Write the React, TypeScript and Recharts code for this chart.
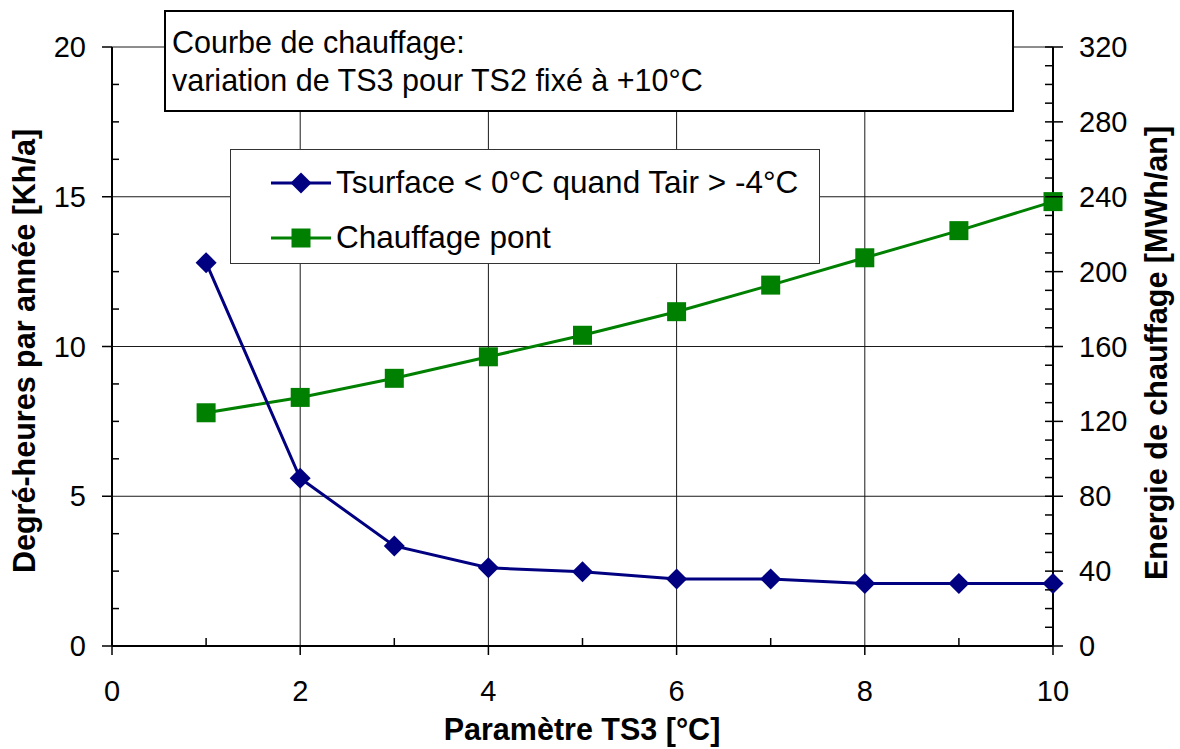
import React from "react";
import { LineChart, Line, XAxis, YAxis, CartesianGrid, Legend, Label } from "recharts";

// TS3 setting (°C) and the two results per setting
const ts3 = [1, 2, 3, 4, 5, 6, 7, 8, 9, 10];
const degreeHours = [12.8, 5.6, 3.34, 2.61, 2.48, 2.24, 2.24, 2.09, 2.09, 2.09];
const heatingEnergy = [124.6, 132.8, 143.0, 154.5, 166.0, 178.6, 192.8, 207.4, 221.9, 237.4];

const SERIES_DH = "Tsurface < 0°C quand Tair > -4°C";
const SERIES_ENERGY = "Chauffage pont";

const xTicks = [0, 1, 2, 3, 4, 5, 6, 7, 8, 9, 10];
const xMajor = [0, 2, 4, 6, 8, 10];
const leftTicks = [0, 1.25, 2.5, 3.75, 5, 6.25, 7.5, 8.75, 10, 11.25, 12.5, 13.75, 15, 16.25, 17.5, 18.75, 20];
const leftMajor = [0, 5, 10, 15, 20];
const rightTicks = [
  0, 10, 20, 30, 40, 50, 60, 70, 80, 90, 100, 110, 120, 130, 140, 150, 160,
  170, 180, 190, 200, 210, 220, 230, 240, 250, 260, 270, 280, 290, 300, 310, 320,
];
const rightMajor = [0, 40, 80, 120, 160, 200, 240, 280, 320];

const data = ts3.map((t, i) => ({ ts3: t, dh: degreeHours[i], energy: heatingEnergy[i] }));

const FONT = "'Liberation Sans', Arial, sans-serif";
const NAVY = "#000080";
const GREEN = "#008000";

function XTick({ x, y, payload }: any) {
  const major = xMajor.includes(payload.value);
  return (
    <g>
      {major ? (
        <line x1={x} y1={y} x2={x} y2={y + 9} stroke="#000" strokeWidth={1.5} />
      ) : (
        <line x1={x} y1={y - 8} x2={x} y2={y} stroke="#000" strokeWidth={1.5} />
      )}
      {major && (
        <text x={x} y={y + 55} textAnchor="middle" fontFamily={FONT} fontSize={29} fill="#000">
          {payload.value}
        </text>
      )}
    </g>
  );
}

function LeftTick({ x, y, payload }: any) {
  const major = leftMajor.includes(payload.value);
  return (
    <g>
      {major ? (
        <line x1={x - 10} y1={y} x2={x} y2={y} stroke="#000" strokeWidth={1.5} />
      ) : (
        <line x1={x} y1={y} x2={x + 7} y2={y} stroke="#000" strokeWidth={1.5} />
      )}
      {major && (
        <text x={x - 26} y={y + 10} textAnchor="end" fontFamily={FONT} fontSize={29} fill="#000">
          {payload.value}
        </text>
      )}
    </g>
  );
}

function RightTick({ x, y, payload }: any) {
  const major = rightMajor.includes(payload.value);
  return (
    <g>
      {major ? (
        <line x1={x - 8} y1={y} x2={x + 10} y2={y} stroke="#000" strokeWidth={1.5} />
      ) : (
        <line x1={x - 8} y1={y} x2={x} y2={y} stroke="#000" strokeWidth={1.5} />
      )}
      {major && (
        <text x={x + 26} y={y + 10} textAnchor="start" fontFamily={FONT} fontSize={29} fill="#000">
          {payload.value}
        </text>
      )}
    </g>
  );
}

function DiamondDot({ cx, cy }: any) {
  if (cx == null || cy == null) return null;
  const r = 10.5;
  return <path d={`M${cx},${cy - r}L${cx + r},${cy}L${cx},${cy + r}L${cx - r},${cy}Z`} fill={NAVY} />;
}

function SquareDot({ cx, cy }: any) {
  if (cx == null || cy == null) return null;
  return <rect x={cx - 9.5} y={cy - 9.5} width={19} height={19} fill={GREEN} />;
}

function LegendBox({ payload }: any) {
  const items = (payload || []).slice().reverse();
  return (
    <div
      style={{
        position: "relative",
        width: 590,
        height: 115,
        boxSizing: "border-box",
        border: "1.5px solid #333",
        background: "#fff",
        fontFamily: FONT,
      }}
    >
      {items.map((item: any, i: number) => {
        const cy = i === 0 ? 33 : 88;
        const isDiamond = item.value === SERIES_DH;
        return (
          <div key={item.value}>
            <svg width={64} height={30} style={{ position: "absolute", left: 38, top: cy - 15 }}>
              <line x1={2} y1={15} x2={62} y2={15} stroke={item.color} strokeWidth={3} />
              {isDiamond ? (
                <path d="M32,4.5L42.5,15L32,25.5L21.5,15Z" fill={item.color} />
              ) : (
                <rect x={22.5} y={5.5} width={19} height={19} fill={item.color} />
              )}
            </svg>
            <div
              style={{
                position: "absolute",
                left: 105,
                top: cy - 19,
                fontSize: 31.5,
                lineHeight: "36px",
                whiteSpace: "nowrap",
                color: "#000",
              }}
            >
              {item.value}
            </div>
          </div>
        );
      })}
    </div>
  );
}

export default function App() {
  return (
    <div style={{ position: "absolute", left: 0, top: 0, width: 1180, height: 749, background: "#fff" }}>
      <LineChart width={1180} height={749} data={data} margin={{ top: 47, right: 0, left: 0, bottom: 0 }}>
        <CartesianGrid
          yAxisId="left"
          horizontalValues={[5, 10, 15, 20]}
          verticalValues={[2, 4, 6, 8]}
          stroke="#1a1a1a"
          strokeWidth={1}
          fill="none"
        />
        <XAxis
          dataKey="ts3"
          type="number"
          domain={[0, 10]}
          ticks={xTicks}
          interval={0}
          height={103}
          tickSize={0}
          tickMargin={0}
          tick={(p: any) => <XTick {...p} />}
          axisLine={{ stroke: "#000", strokeWidth: 2 }}
        >
          <Label
            content={() => (
              <text x={582} y={740} textAnchor="middle" fontFamily={FONT} fontSize={30.5} fontWeight="bold" fill="#000">
                Paramètre TS3 [°C]
              </text>
            )}
          />
        </XAxis>
        <YAxis
          yAxisId="left"
          orientation="left"
          type="number"
          domain={[0, 20]}
          ticks={leftTicks}
          interval={0}
          width={112}
          tickSize={0}
          tickMargin={0}
          tick={(p: any) => <LeftTick {...p} />}
          axisLine={{ stroke: "#000", strokeWidth: 2 }}
        >
          <Label
            content={() => (
              <text
                x={35}
                y={351}
                transform="rotate(-90, 35, 351)"
                textAnchor="middle"
                fontFamily={FONT}
                fontSize={30.5}
                fontWeight="bold"
                fill="#000"
              >
                Degré-heures par année [Kh/a]
              </text>
            )}
          />
        </YAxis>
        <YAxis
          yAxisId="right"
          orientation="right"
          type="number"
          domain={[0, 320]}
          ticks={rightTicks}
          interval={0}
          width={127}
          tickSize={0}
          tickMargin={0}
          tick={(p: any) => <RightTick {...p} />}
          axisLine={{ stroke: "#000", strokeWidth: 2 }}
        >
          <Label
            content={() => (
              <text
                x={1167}
                y={353}
                transform="rotate(-90, 1167, 353)"
                textAnchor="middle"
                fontFamily={FONT}
                fontSize={30.5}
                fontWeight="bold"
                fill="#000"
              >
                Energie de chauffage [MWh/an]
              </text>
            )}
          />
        </YAxis>
        <Line
          yAxisId="right"
          type="linear"
          dataKey="energy"
          name={SERIES_ENERGY}
          stroke={GREEN}
          strokeWidth={3}
          dot={(p: any) => <SquareDot key={`e-${p.index}`} {...p} />}
          activeDot={false}
          isAnimationActive={false}
        />
        <Line
          yAxisId="left"
          type="linear"
          dataKey="dh"
          name={SERIES_DH}
          stroke={NAVY}
          strokeWidth={3}
          dot={(p: any) => <DiamondDot key={`d-${p.index}`} {...p} />}
          activeDot={false}
          isAnimationActive={false}
        />
        <Legend
          layout="vertical"
          align="center"
          verticalAlign="middle"
          content={(p: any) => <LegendBox {...p} />}
          wrapperStyle={{ left: 230, top: 149, width: 590, height: 115 }}
        />
      </LineChart>
      <div
        style={{
          position: "absolute",
          left: 164,
          top: 10,
          width: 850,
          height: 102,
          boxSizing: "border-box",
          border: "2px solid #000",
          background: "#fff",
          padding: "12px 0 0 6px",
          fontFamily: FONT,
          fontSize: 30.5,
          lineHeight: "37.5px",
          color: "#000",
        }}
      >
        <div>Courbe de chauffage:</div>
        <div>variation de TS3 pour TS2 fixé à +10°C</div>
      </div>
    </div>
  );
}
